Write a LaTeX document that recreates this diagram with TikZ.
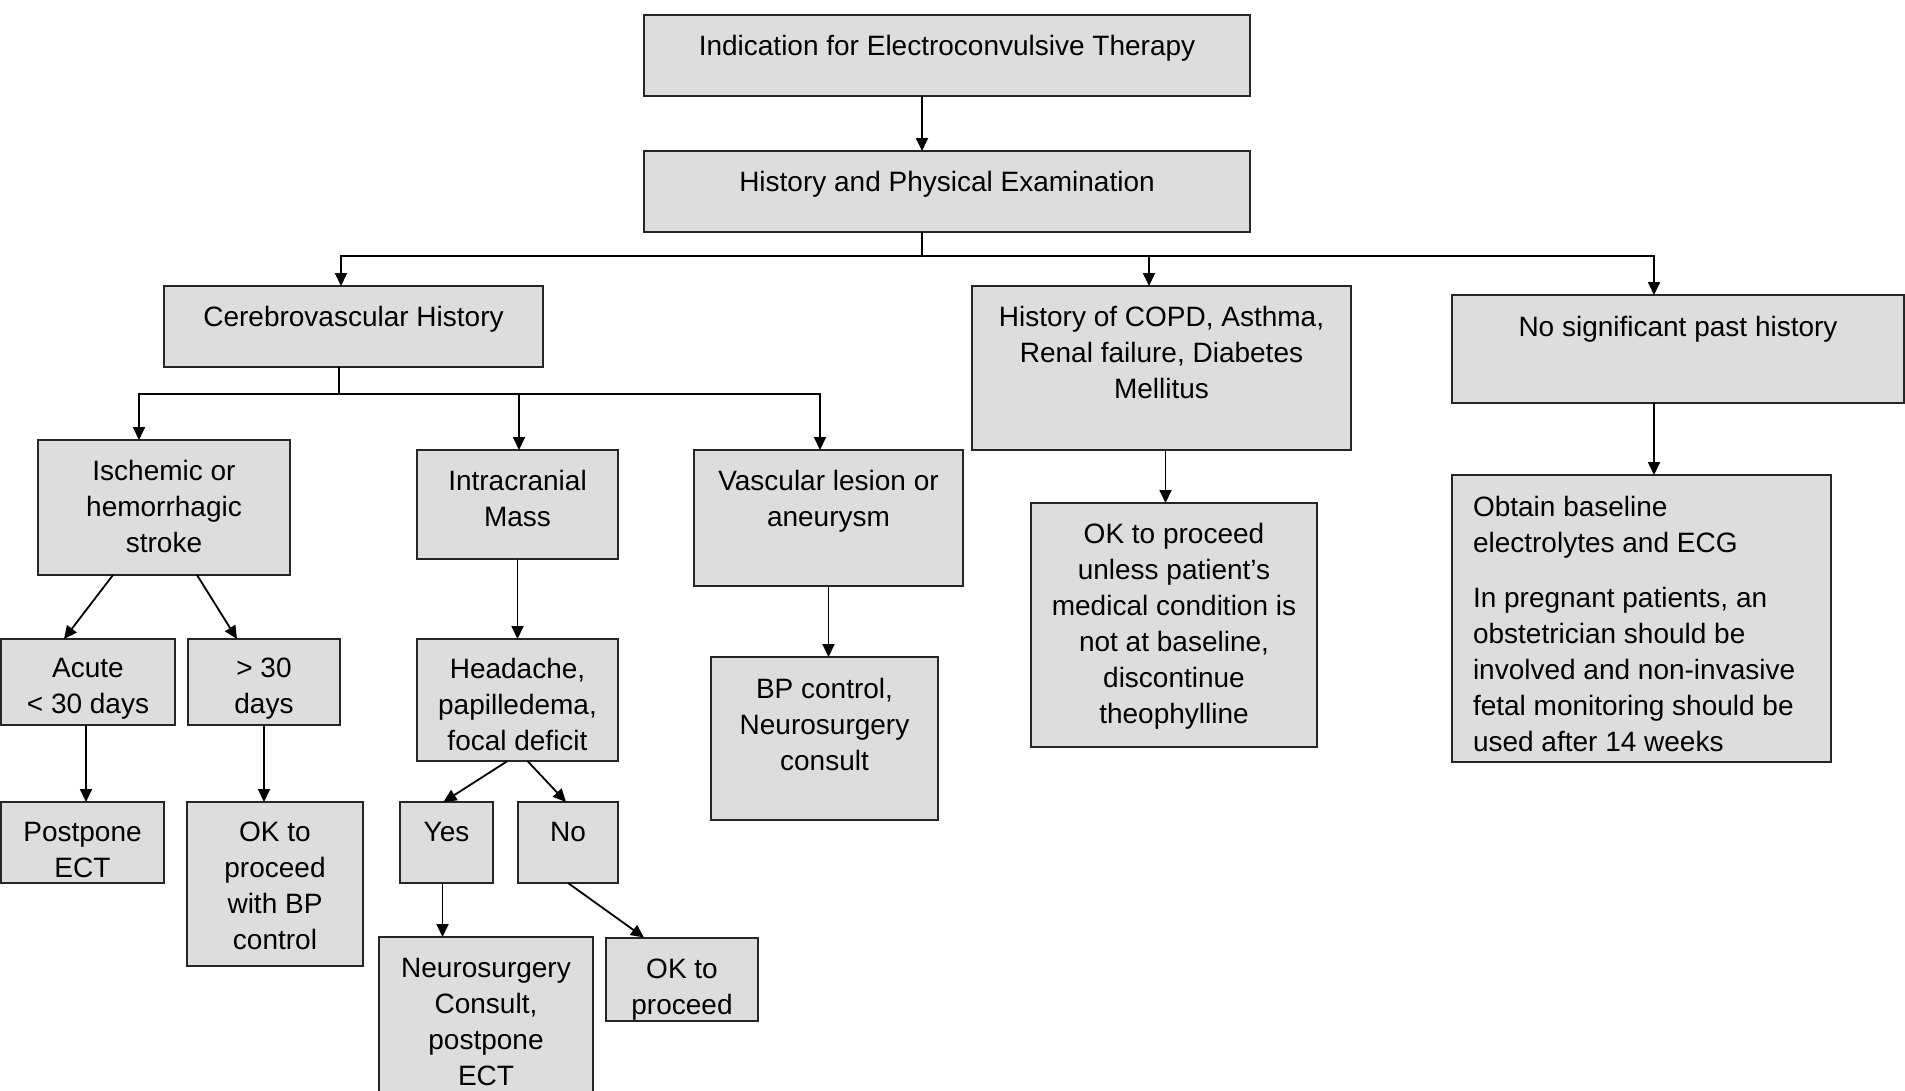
\documentclass[tikz,border=0pt]{standalone}
\usepackage{fontspec}
\setmainfont{Liberation Sans}
\usepackage{xcolor}
\usetikzlibrary{arrows.meta}
\definecolor{boxgray}{RGB}{221,221,221}
\newcommand{\bt}[4]{\parbox[c][#2pt][t]{#1pt}{\centering\vspace*{#3pt}#4\par}}

\begin{document}
\begin{tikzpicture}[x=1pt, y=-1pt,
    box/.style={draw=black!85, fill=boxgray, line width=2pt, inner sep=0pt, outer sep=0pt,
                font=\fontsize{28pt}{36pt}\selectfont},
    arr/.style={-{Triangle[length=13pt,width=12pt]}, line width=1.8pt},
    line/.style={line width=1.8pt}]
   \useasboundingbox (0,0) rectangle (1905,1090);

   \node[box] (ind)   at (947,55.5)    {\bt{606}{81}{20}{Indication for Electroconvulsive Therapy}};
   \node[box] (hpe)   at (947,191.5)   {\bt{606}{81}{20}{History and Physical Examination}};
   \node[box] (cvh)   at (353.5,326.5) {\bt{379}{81}{20}{Cerebrovascular History}};
   \node[box] (copd)  at (1161.5,368)  {\bt{379}{164}{20}{History of COPD, Asthma,\\Renal failure, Diabetes\\Mellitus}};
   \node[box] (nsh)   at (1678,349)    {\bt{452}{108}{21}{No significant past history}};

   \node[box] (isch)  at (164,507.5)   {\bt{252}{135}{20}{Ischemic or\\hemorrhagic\\stroke}};
   \node[box] (icm)   at (517.5,504.5) {\bt{201}{109}{20}{Intracranial\\Mass}};
   \node[box] (vasc)  at (828.5,518)   {\bt{269}{136}{20}{Vascular lesion or\\aneurysm}};
   \node[box] (okun)  at (1174,625)    {\bt{286}{244}{20}{OK to proceed\\unless patient’s\\medical condition is\\not at baseline,\\discontinue\\theophylline}};
   \node[box] (obt)   at (1641.5,618.5) {\parbox[c][287pt][t]{379pt}{\raggedright\leftskip=21pt\vspace*{21pt}Obtain baseline\\electrolytes and ECG\par\vspace{19pt}In pregnant patients, an\\obstetrician should be\\involved and non-invasive\\fetal monitoring should be\\used after 14 weeks\par}};

   \node[box] (acute) at (88,682)      {\bt{174}{86}{19}{Acute\\< 30 days}};
   \node[box] (gt30)  at (264,682)     {\bt{152}{86}{19}{> 30\\days}};
   \node[box] (head)  at (517.5,700)   {\bt{201}{122}{19}{Headache,\\papilledema,\\focal deficit}};
   \node[box] (bpc)   at (824.5,738.5) {\bt{227}{163}{21}{BP control,\\Neurosurgery\\consult}};

   \node[box] (postp) at (82.5,842.5)  {\bt{163}{81}{20}{Postpone\\ECT}};
   \node[box] (okbp)  at (275,884)     {\bt{176}{164}{20}{OK to\\proceed\\with BP\\control}};
   \node[box] (yes)   at (446.5,842.5) {\bt{93}{81}{20}{Yes}};
   \node[box] (no)    at (568,842.5)   {\bt{100}{81}{20}{No}};
   \node[box] (neuro) at (486,1019)    {\bt{214}{164}{21}{Neurosurgery\\Consult,\\postpone\\ECT}};
   \node[box] (okp)   at (682,979)     {\bt{152}{83}{21}{OK to\\proceed}};

   % top of the tree
   \draw[arr] ([xshift=-25pt]ind.south) -- ([xshift=-25pt]hpe.north);
   \draw[line] ([xshift=-25pt]hpe.south) -- ++(0,24) coordinate (hb);
   \draw[arr] (hb) -| ([xshift=-12.5pt]cvh.north);
   \draw[arr] (hb) -| ([xshift=-12.5pt]copd.north);
   \draw[arr] (hb) -| ([xshift=-24pt]nsh.north);

   % cerebrovascular branch
   \draw[line] ([xshift=-14.5pt]cvh.south) -- ++(0,27) coordinate (cb);
   \draw[arr] (cb) -| ([xshift=-25pt]isch.north);
   \draw[arr] (cb) -| ([xshift=1.5pt]icm.north);
   \draw[arr] (cb) -| ([xshift=-8.5pt]vasc.north);

   \draw[arr] ([xshift=-51pt]isch.south) -- ([xshift=-24pt]acute.north);
   \draw[arr] ([xshift=33pt]isch.south) -- ([xshift=-27pt]gt30.north);
   \draw[arr] ([xshift=-2pt]acute.south) -- ([xshift=-2pt]acute.south |- postp.north);
   \draw[arr] (gt30.south) -- (gt30.south |- okbp.north);

   \draw[arr] (icm.south) -- (head.north);
   \draw[arr] ([xshift=-10pt]head.south) -- ([xshift=-3pt]yes.north);
   \draw[arr] ([xshift=10pt]head.south) -- ([xshift=-2pt]no.north);
   \draw[arr] ([xshift=-4pt]yes.south) -- ([xshift=-4pt]yes.south |- neuro.north);
   \draw[arr] (no.south) -- ([xshift=-38pt]okp.north);

   \draw[arr] (vasc.south) -- (vasc.south |- bpc.north);

   % other histories
   \draw[arr] ([xshift=4pt]copd.south) -- ([xshift=4pt]copd.south |- okun.north);
   \draw[arr] ([xshift=-24pt]nsh.south) -- ([xshift=-24pt]nsh.south |- obt.north);
\end{tikzpicture}
\end{document}
